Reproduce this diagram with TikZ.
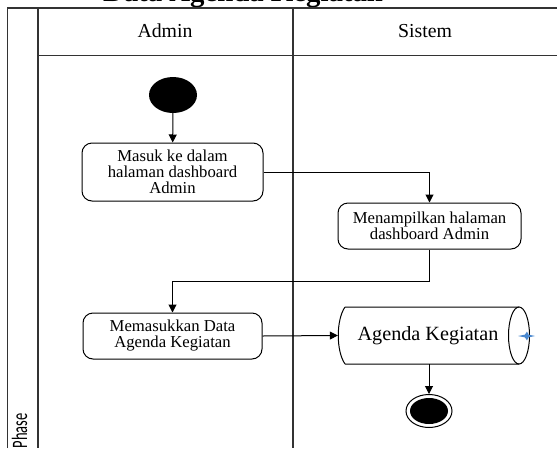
\documentclass[tikz,border=0pt]{standalone}
\usepackage{fontspec}
\setmainfont{Liberation Serif}
\newfontfamily\phasefont{Carlito}
\usetikzlibrary{arrows.meta,shapes.geometric}
\definecolor{markblue}{HTML}{4A88CF}
\begin{document}
\begin{tikzpicture}[x=1pt,y=-1pt,
  lane/.style={draw=black!80,line width=1.4pt},
  act/.style={draw,rounded corners=10pt,line width=1pt,align=center,
    font=\fontsize{16.7}{16}\selectfont,inner sep=0pt},
  flow/.style={draw,line width=1pt,-{Triangle[length=8pt,width=8pt]}},
  hdr/.style={font=\fontsize{19.8}{20}\selectfont},
]
\clip (0,0) rectangle (557,448);
\fill[white] (0,0) rectangle (557,448);

% title
\node[anchor=base,font=\fontsize{28.8}{30}\selectfont\bfseries] (title) at (243,1) {Data Agenda Kegiatan};

% swimlane frame
\draw[lane] (7.5,448) -- (7.5,8) -- (557,8);
\draw[lane] (38,8) -- (38,448);
\draw[lane] (293,8) -- (293,448);
\draw[lane] (38,55.5) -- (557,55.5);

\node[hdr] (admin) at (165,31) {Admin};
\node[hdr] (sistem) at (425,31) {Sistem};
\node[rotate=90,inner sep=0pt] (phase) at (19.5,431)
  {\phasefont\fontsize{22}{22}\selectfont\scalebox{0.66}[1]{Phase}};

% activities
\node[ellipse,fill=black,minimum width=48pt,minimum height=36pt,inner sep=0pt] (start) at (173,95) {};
\node[act,minimum width=181pt,minimum height=58pt] (a1) at (172.5,172) {Masuk ke dalam\\halaman dashboard\\Admin};
\node[act,minimum width=183pt,minimum height=46pt] (a2) at (429.5,226) {Menampilkan halaman\\dashboard Admin};
\node[act,minimum width=179pt,minimum height=46pt] (a3) at (172.5,336) {Memasukkan Data\\Agenda Kegiatan};

% data store
\node[minimum width=192pt,minimum height=57pt,inner sep=0pt] (store) at (434,335.5) {};
\draw[line width=1pt,fill=white]
  (345,307) -- (519,307)
  (345,364) -- (519,364)
  (345,307) .. controls (336,320) and (336,351) .. (345,364);
\draw[line width=1pt] (519,335.5) ellipse [x radius=10.5pt, y radius=28.5pt];
\node[font=\fontsize{20.2}{20}\selectfont] (storelabel) at (428,336) {Agenda Kegiatan};
\fill[markblue] (518,336) -- (525,334.6) -- (527,331.5) -- (528.4,334.6) -- (535,336)
  -- (528.4,337.4) -- (527,340.5) -- (525,337.4) -- cycle;

% final node
\node[ellipse,draw,line width=1pt,minimum width=46pt,minimum height=33pt,inner sep=0pt] (end) at (429,411) {};
\fill (end.center) ellipse [x radius=19pt, y radius=13pt];

% flows
\coordinate (bend) at (429.5,281);
\draw[flow] (start) -- (a1);
\draw[flow] (a1.east) -| (a2.north);
\draw[line width=1pt] (a2.south) -- (bend);
\draw[flow] (bend) -| (a3.north);
\draw[flow] (a3.east) -- (store.west);
\draw[flow] (end |- store.south) -- (end.north);
\end{tikzpicture}
\end{document}
